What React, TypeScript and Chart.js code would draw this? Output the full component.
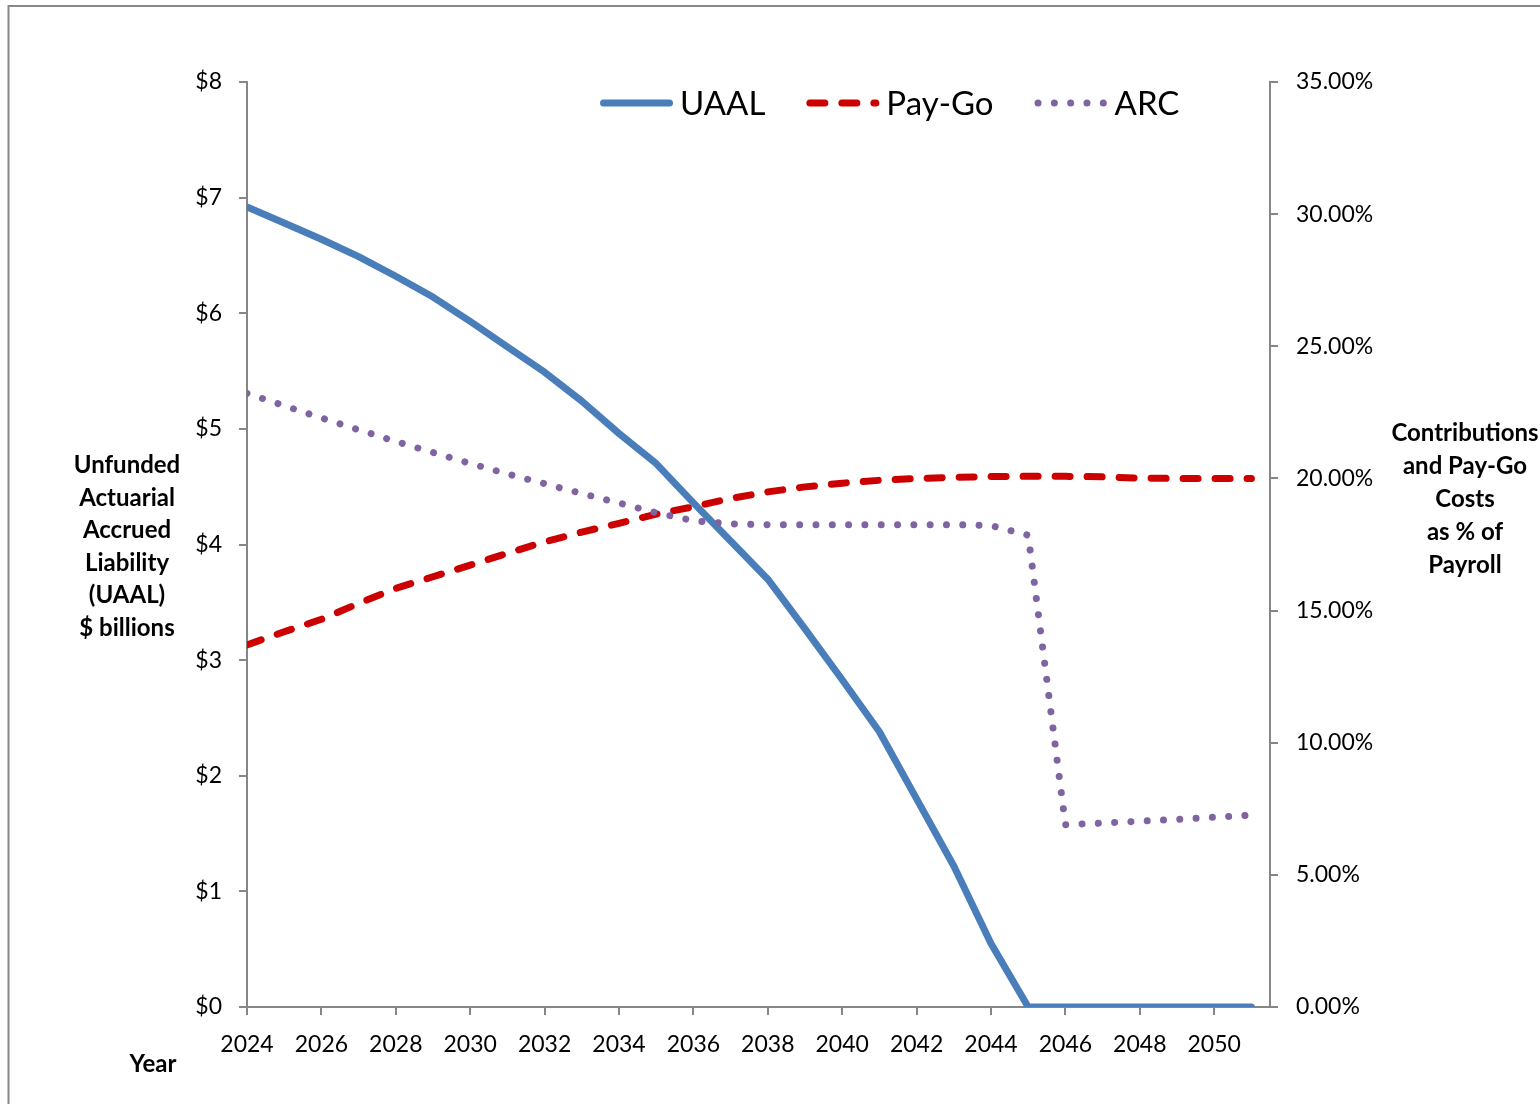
import React, { useEffect, useRef } from 'react';
import { Chart, registerables } from 'chart.js';

Chart.register(...registerables);

const years = [
  2024, 2025, 2026, 2027, 2028, 2029, 2030, 2031, 2032, 2033, 2034, 2035, 2036, 2037,
  2038, 2039, 2040, 2041, 2042, 2043, 2044, 2045, 2046, 2047, 2048, 2049, 2050, 2051,
];

// UAAL, $ billions (left axis)
const uaal = [
  6.92, 6.78, 6.64, 6.49, 6.32, 6.14, 5.93, 5.71, 5.49, 5.24, 4.96, 4.7, 4.36, 4.03,
  3.7, 3.27, 2.83, 2.38, 1.8, 1.22, 0.55, 0, 0, 0, 0, 0, 0, 0,
];

// Pay-Go cost, % of payroll (right axis)
const payGo = [
  13.7, 14.2, 14.67, 15.27, 15.84, 16.28, 16.72, 17.17, 17.6, 17.97, 18.3, 18.65, 18.93, 19.24,
  19.49, 19.68, 19.82, 19.93, 20.0, 20.04, 20.07, 20.08, 20.08, 20.06, 20.01, 20.0, 20.0, 20.0,
];

// ARC, % of payroll (right axis)
const arc = [
  23.22, 22.75, 22.29, 21.84, 21.4, 20.98, 20.57, 20.17, 19.8, 19.43, 19.07, 18.7, 18.4, 18.28,
  18.25, 18.25, 18.25, 18.25, 18.25, 18.25, 18.22, 17.85, 6.9, 6.96, 7.03, 7.1, 7.18, 7.26,
];

const xTickYears = [2024, 2026, 2028, 2030, 2032, 2034, 2036, 2038, 2040, 2042, 2044, 2046, 2048, 2050];
const leftTicks = [0, 1, 2, 3, 4, 5, 6, 7, 8];
const rightTicks = [0, 5, 10, 15, 20, 25, 30, 35];

const leftTitle = ['Unfunded', 'Actuarial', 'Accrued', 'Liability', '(UAAL)', '$ billions'];
const rightTitle = ['Contributions', 'and Pay-Go', 'Costs', 'as % of', 'Payroll'];
const xTitle = 'Year';

const FONT = 'Lato, "Noto Sans", sans-serif';
const AXIS_GRAY = '#868686';

const decorPlugin = {
  id: 'decor',
  beforeDraw(chart: any) {
    const c = chart.ctx;
    c.save();
    c.fillStyle = '#ffffff';
    c.fillRect(0, 0, chart.width, chart.height);
    c.strokeStyle = '#878787';
    c.lineWidth = 2;
    c.strokeRect(8.5, 6, chart.width + 200, chart.height + 200);
    c.restore();
  },
  afterDraw(chart: any) {
    const c = chart.ctx;
    const a = chart.chartArea;
    c.save();
    c.fillStyle = '#000000';
    c.font = `bold 24px ${FONT}`;
    c.textAlign = 'center';
    c.textBaseline = 'alphabetic';
    leftTitle.forEach((t, i) => c.fillText(t, a.left - 120, a.top + 391 + i * 32.5));
    rightTitle.forEach((t, i) => c.fillText(t, a.right + 195, a.top + 359 + i * 32.9));
    c.fillText(xTitle, a.left - 94, a.bottom + 65);

    // legend
    let x = a.left + 353;
    const ly = a.top + 21;
    chart.data.datasets.forEach((ds: any) => {
      c.save();
      c.strokeStyle = ds.borderColor;
      c.lineWidth = ds.borderWidth;
      c.lineCap = 'round';
      c.setLineDash(ds.borderDash || []);
      c.beginPath();
      c.moveTo(x + 3.5, ly);
      c.lineTo(x + 69.5, ly);
      c.stroke();
      c.restore();
      x += 80;
      c.font = `33px ${FONT}`;
      c.textAlign = 'left';
      c.fillStyle = '#000000';
      c.fillText(ds.label, x, a.top + 33);
      x += c.measureText(ds.label).width + 41;
    });
    c.restore();
  },
};

export default function App() {
  const ref = useRef<HTMLCanvasElement>(null);

  useEffect(() => {
    const canvas = ref.current;
    if (!canvas) return;
    const tickFont = { family: FONT, size: 23 };
    const gridOpts = {
      display: true,
      drawOnChartArea: false,
      drawTicks: true,
      tickLength: 8,
      color: AXIS_GRAY,
      lineWidth: 2,
    };
    const borderOpts = { display: true, color: AXIS_GRAY, width: 2 };

    const chart = new Chart(canvas, {
      type: 'line',
      data: {
        datasets: [
          {
            label: 'UAAL',
            data: years.map((x, i) => ({ x, y: uaal[i] })),
            yAxisID: 'y',
            borderColor: '#4A7EBB',
            backgroundColor: '#4A7EBB',
            borderWidth: 7,
            borderCapStyle: 'round',
            borderJoinStyle: 'round',
            pointRadius: 0,
            tension: 0,
            order: 2,
          },
          {
            label: 'Pay-Go',
            data: years.map((x, i) => ({ x, y: payGo[i] })),
            yAxisID: 'y1',
            borderColor: '#CC0000',
            backgroundColor: '#CC0000',
            borderWidth: 7,
            borderDash: [15, 17],
            borderCapStyle: 'round',
            borderJoinStyle: 'round',
            pointRadius: 0,
            tension: 0,
            order: 1,
          },
          {
            label: 'ARC',
            data: years.map((x, i) => ({ x, y: arc[i] })),
            yAxisID: 'y1',
            borderColor: '#8064A2',
            backgroundColor: '#8064A2',
            borderWidth: 7,
            borderDash: [0.01, 16.3],
            borderCapStyle: 'round',
            borderJoinStyle: 'round',
            pointRadius: 0,
            tension: 0,
            order: 0,
          },
        ],
      } as any,
      options: {
        responsive: false,
        animation: false,
        devicePixelRatio: 1,
        layout: { padding: { top: 82, left: 0, right: 0, bottom: 0 } },
        plugins: {
          legend: { display: false },
          tooltip: { enabled: false },
          title: { display: false },
        },
        scales: {
          x: {
            type: 'linear',
            min: 2024,
            max: 2051.5,
            afterBuildTicks: (s: any) => {
              s.ticks = xTickYears.map((v) => ({ value: v }));
            },
            afterFit: (s: any) => {
              s.height = 97;
            },
            ticks: {
              callback: (v: any) => String(v),
              font: tickFont,
              color: '#000000',
              padding: 16,
              maxRotation: 0,
              autoSkip: false,
            },
            grid: gridOpts,
            border: borderOpts,
          },
          y: {
            type: 'linear',
            position: 'left',
            min: 0,
            max: 8,
            afterBuildTicks: (s: any) => {
              s.ticks = leftTicks.map((v) => ({ value: v }));
            },
            afterFit: (s: any) => {
              s.width = 247;
            },
            ticks: {
              callback: (v: any) => '$' + v,
              font: tickFont,
              color: '#000000',
              padding: 17,
            },
            grid: gridOpts,
            border: borderOpts,
          },
          y1: {
            type: 'linear',
            position: 'right',
            min: 0,
            max: 35,
            afterBuildTicks: (s: any) => {
              s.ticks = rightTicks.map((v) => ({ value: v }));
            },
            afterFit: (s: any) => {
              s.width = 270;
            },
            ticks: {
              callback: (v: any) => Number(v).toFixed(2) + '%',
              font: tickFont,
              color: '#000000',
              padding: 18,
            },
            grid: gridOpts,
            border: borderOpts,
          },
        },
      } as any,
      plugins: [decorPlugin],
    });

    return () => chart.destroy();
  }, []);

  return (
    <div style={{ position: 'absolute', left: 0, top: 0, width: 1540, height: 1104 }}>
      <canvas ref={ref} width={1540} height={1104} style={{ display: 'block' }} />
    </div>
  );
}
